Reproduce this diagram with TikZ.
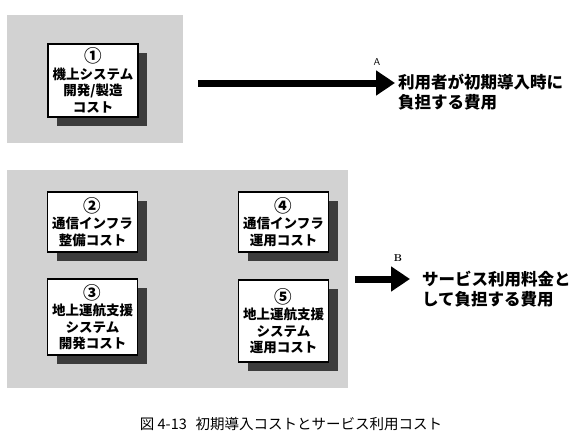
\documentclass[tikz,border=0pt]{standalone}
\usepackage{fontspec}
\usepackage{xcolor}
\usepackage{tikz}
\usetikzlibrary{arrows.meta,positioning,shadows}
\newfontfamily\cjk{Noto Sans CJK JP}
\definecolor{PanelGray}{HTML}{D2D2D2}
\definecolor{ShadowGray}{HTML}{3C3C3C}
\newcommand{\costno}[1]{\scalebox{1.3}{#1}}
\tikzset{
  panel/.style={fill=PanelGray,draw=none},
  costbox/.style={draw=black,fill=white,line width=1.2pt,align=center,
    minimum width=90pt,inner sep=1pt,font=\cjk\bfseries\fontsize{13.5}{16.5}\selectfont,
    drop shadow={shadow xshift=9pt,shadow yshift=-9pt,fill=ShadowGray,opacity=1}},
  payer/.style={anchor=west,align=left,inner sep=0pt,
    font=\cjk\bfseries\fontsize{16.5}{19.5}\selectfont},
  bigarrow/.style={-{Triangle[length=19pt,width=24pt]},line width=7pt,draw=black},
  caption/.style={font=\cjk\fontsize{14.5}{17}\selectfont}
}
\begin{document}
\begin{tikzpicture}[x=1pt,y=-1pt]
  \useasboundingbox (0,0) rectangle (588,444);
  \fill[panel] (7,15) rectangle (183,143);
  \fill[panel] (7,170) rectangle (348,388);
  \node[costbox,minimum height=73pt] (sysdev) at (93,80.5) {\costno{①}\\機上システム\\開発/製造\\コスト};
  \node[costbox,minimum height=60pt] (infraset) at (92.5,222) {\costno{②}\\通信インフラ\\整備コスト};
  \node[costbox,minimum height=76pt] (grounddev) at (92.5,317) {\costno{③}\\地上運航支援\\システム\\開発コスト};
  \node[costbox,minimum height=60pt] (infraop) at (283.5,222) {\costno{④}\\通信インフラ\\運用コスト};
  \node[costbox,minimum height=82pt] (groundop) at (283.5,321) {\costno{⑤}\\地上運航支援\\システム\\運用コスト};
  % A: initial cost
  \coordinate (aStart) at (198,83);
  \coordinate (aEnd) at (395,83);
  \draw[bigarrow] (aStart) -- (aEnd);
  \node[font=\sffamily\fontsize{10}{11}\selectfont] (labA) at (377,62) {A};
  \node[payer] (costA) at (398,92) {利用者が初期導入時に\\負担する費用};
  % B: service fee
  \coordinate (bStart) at (355,279);
  \coordinate (bEnd) at (410,279);
  \draw[bigarrow] (bStart) -- (bEnd);
  \node[font=\bfseries\fontsize{10}{11}\selectfont] (labB) at (398,258) {B};
  \node[payer] (costB) at (422,289) {サービス利用料金と\\して負担する費用};
  \node[caption] (cap) at (291,424) {図 4-13\hspace{0.6em}初期導入コストとサービス利用コスト};
\end{tikzpicture}
\end{document}
